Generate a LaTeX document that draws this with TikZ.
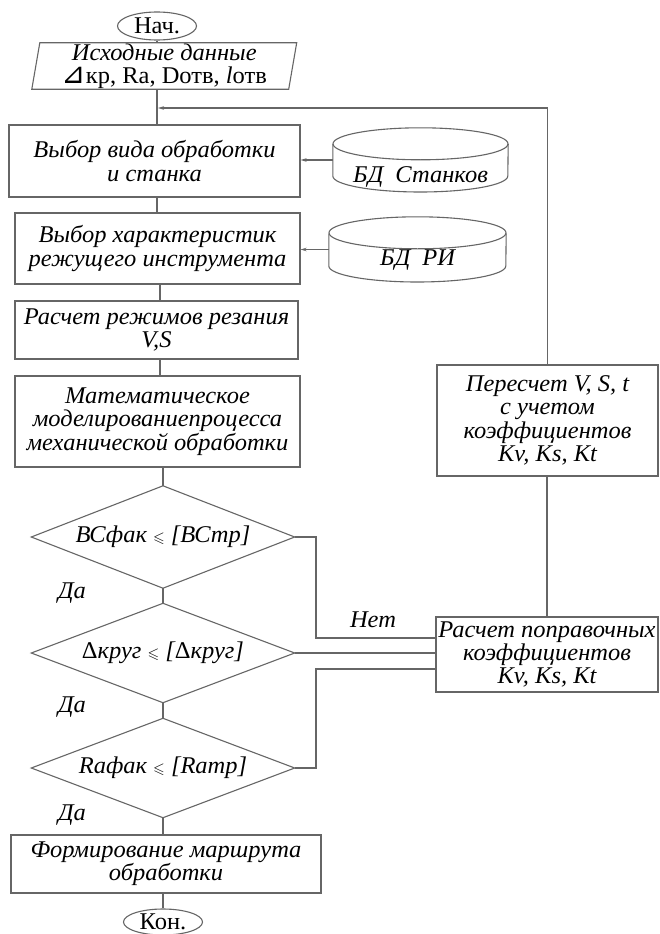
\documentclass[tikz,border=0pt]{standalone}
\usepackage{amssymb}
\usepackage{fontspec}
\setmainfont[FakeStretch=1.02]{Liberation Serif}
\newfontfamily\symf{DejaVu Sans}
\usetikzlibrary{shapes.geometric,arrows.meta,calc}
\newcommand\mytxt{\fontsize{24}{23.3}\selectfont}
\newcommand\myle{{\fontsize{15}{15}\selectfont$\leqslant$}}
\begin{document}
\begin{tikzpicture}[x=1pt,y=-1pt,
  ln/.style={draw=black!60, line width=1.1pt},
  arr/.style={ln, -{Stealth[length=6pt,width=3.5pt]}},
  box/.style={rectangle, ln, align=center, inner sep=0pt, font=\mytxt\itshape},
  term/.style={ellipse, ln, inner sep=0pt, minimum width=79pt, font=\mytxt},
  hid/.style={rectangle, draw=none, inner sep=0pt},
  dec/.style={hid, minimum width=263pt, font=\mytxt\itshape},
  lbl/.style={font=\mytxt\itshape, inner sep=0pt}]
\fill[white] (0,0) rectangle (659,934);
\useasboundingbox (0,0) rectangle (659,934);

% start / input
\node[term, minimum height=28pt] (start) at (157,26) {Нач.};
\node[hid, minimum width=256.5pt, minimum height=46pt, align=center, font=\mytxt] (inp) at (164.25,66) {\textit{Исходные данные}\\{\symf\fontsize{29}{29}\selectfont ⊿}кр, Ra, Dотв, \textit{l}отв};
\draw[ln] ($(inp.north west)+(4,0)$) -- ($(inp.north east)+(4,0)$) -- ($(inp.south east)+(-4,0)$) -- ($(inp.south west)+(-4,0)$) -- cycle;

% left column
\node[box, minimum width=291pt, minimum height=72pt] (b1) at (154.5,161) {Выбор вида обработки\\и станка};
\node[box, minimum width=285pt, minimum height=71pt] (b2) at (157.5,248.5) {Выбор характеристик\\режущего инструмента};
\node[box, minimum width=283pt, minimum height=58pt] (b3) at (156.5,330) {Расчет режимов резания\\V,S};
\node[box, minimum width=285pt, minimum height=91pt] (b4) at (157.5,421.5) {Математическое\\моделированиепроцесса\\механической обработки};
\node[dec, minimum height=102pt] (d1) at (163,537) {ВСфак \myle{} [ВСтр]};
\node[dec, minimum height=99pt] (d2) at (163,653) {\upshape Δ\itshape круг \myle{} [\upshape Δ\itshape круг]};
\node[dec, minimum height=99pt] (d3) at (163,768) {Raфак \myle{} [Raтр]};
\draw[ln] (d1.north) -- (d1.east) -- (d1.south) -- (d1.west) -- cycle;
\draw[ln] (d2.north) -- (d2.east) -- (d2.south) -- (d2.west) -- cycle;
\draw[ln] (d3.north) -- (d3.east) -- (d3.south) -- (d3.west) -- cycle;
\node[box, minimum width=310pt, minimum height=58pt] (b5) at (166,864) {Формирование маршрута\\обработки};
\node[term, minimum height=26pt] (end) at (163,922) {Кон.};

% databases
\node[hid, minimum width=175pt, minimum height=64pt] (cyl1) at (420.5,160) {};
\draw[ln] ($(cyl1.north)+(0,16)$) ellipse [x radius=87.5pt, y radius=16pt];
\draw[ln] ($(cyl1.west)+(0,-16)$) -- ($(cyl1.west)+(0,16)$) arc [start angle=180, end angle=360, x radius=87.5pt, y radius=16pt] -- ($(cyl1.east)+(0,-16)$);
\node[lbl] (cyl1t) at (420.5,177) {БД\enspace Станков};
\node[hid, minimum width=177pt, minimum height=65pt] (cyl2) at (417.5,249.5) {};
\draw[ln] ($(cyl2.north)+(0,16)$) ellipse [x radius=88.5pt, y radius=16pt];
\draw[ln] ($(cyl2.west)+(0,-16)$) -- ($(cyl2.west)+(0,16.5)$) arc [start angle=180, end angle=360, x radius=88.5pt, y radius=16pt] -- ($(cyl2.east)+(0,-16)$);
\node[lbl] (cyl2t) at (417.5,260) {БД\enspace РИ};

% right column
\node[box, minimum width=221pt, minimum height=111pt] (rb1) at (547.5,420.5) {Пересчет V, S, t\\с учетом\\коэффициентов\\Kv, Ks, Kt};
\node[box, minimum width=222pt, minimum height=75pt] (rb2) at (547,654.5) {Расчет поправочных\\коэффициентов\\Kv, Ks, Kt};

% labels
\node[lbl] (yes1) at (72,593) {Да};
\node[lbl] (yes2) at (72,707) {Да};
\node[lbl] (yes3) at (72,815) {Да};
\node[lbl] (no1) at (373,620) {Нет};

% helper coordinates
\coordinate (fb) at (158,108);
\coordinate (j1) at (316,537);
\coordinate (j3) at (316,768);
\coordinate (n1) at (436,638);
\coordinate (n3) at (436,669);

% trunk
\draw[ln] (start.south) -- (start.south |- inp.north);
\draw[ln] (start.south |- inp.south) -- (start.south |- b1.north);
\draw[ln] (b1.south -| start.south) -- (b2.north -| start.south);
\draw[ln] (b2.south -| 160,0) -- (b3.north -| 160,0);
\draw[ln] (b3.south -| 160,0) -- (b4.north -| 160,0);
\draw[ln] (b4.south -| d1.north) -- (d1.north);
\draw[ln] (d1.south) -- (d2.north);
\draw[ln] (d2.south) -- (d3.north);
\draw[ln] (d3.south) -- (b5.north -| d3.south);
\draw[ln] (b5.south -| end.north) -- (end.north);

% databases to boxes
\draw[arr] (cyl1.west) -- (cyl1.west -| b1.east);
\draw[arr] (cyl2.west) -- (cyl2.west -| b2.east);

% feedback
\draw[ln] (rb2.north) -- (rb2.north |- rb1.south);
\draw[arr] (rb1.north) -- (rb1.north |- fb) -- (fb);

% decisions to correction
\draw[ln] (d1.east) -- (j1) |- (n1);
\draw[ln] (d2.east) -- (d2.east -| rb2.west);
\draw[ln] (d3.east) -- (j3) |- (n3);
\end{tikzpicture}
\end{document}
